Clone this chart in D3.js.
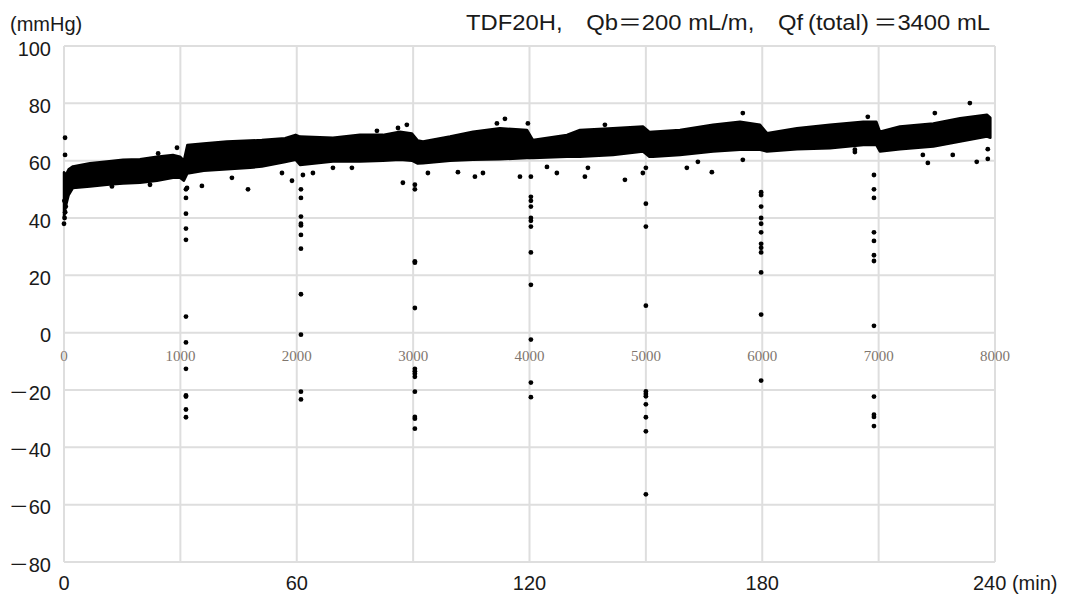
<!DOCTYPE html>
<html>
<head>
<meta charset="utf-8">
<script src="https://cdn.jsdelivr.net/npm/d3@7"></script>
<style>
  body { margin: 0; background: #fff; }
  svg text { font-family: "Liberation Sans", Arial, "Noto Sans CJK JP", sans-serif; fill: #1a1a1a; }
</style>
</head>
<body>
<div id="plot"></div>
<script>
// Dense band of samples: envelope (sample index, upper, lower)
var cloudIdx = [0, 15, 40, 77, 223, 369, 507, 653, 799, 936, 997, 1030, 1060, 1200, 1400, 1600, 1700, 1900, 1990,
  2028, 2311, 2543, 2741, 2887, 2990, 3040, 3085, 3317, 3515, 3746, 3978, 4030, 4322, 4434, 4717, 4975,
  5030, 5061, 5293, 5577, 5809, 5981, 6040, 6298, 6582, 6868, 6980, 7011, 7183, 7470, 7700, 7931, 7960];
var cloudHi = [56, 55, 57, 58, 59.1, 59.7, 60.3, 60.5, 61.4, 62, 61.4, 60, 65.5, 66, 66.7, 67, 67.2, 67.8, 69,
  68.4, 68, 69, 69, 70.1, 69.5, 67, 66.7, 68.4, 70.1, 71.3, 70.7, 67.2, 69, 70.7, 71.3, 71.9,
  70, 70.1, 70.7, 72.5, 73.6, 72.5, 69.6, 71.3, 72.5, 73.6, 73.6, 70.1, 71.9, 73, 74.8, 76, 75];
var cloudLo = [40, 44, 48, 50.5, 51, 51.6, 52, 52.3, 53, 54, 54, 53, 55.5, 56.5, 57, 57.5, 58, 59.5, 60.3,
  58.5, 59.7, 59.7, 60, 60.3, 60, 59, 59.1, 60, 60.3, 60.5, 60.9, 60.9, 61.4, 61.4, 62, 63.2,
  61.4, 61.4, 62, 63.2, 63.8, 63.8, 63.2, 64, 64.3, 65.5, 65.5, 63.2, 64, 64.9, 66.7, 68.4, 68];

// Single points outside the band (sample index, mmHg)
var dotIdx = [0, 5, 10, 9, 9, 15, 3,
  1048, 1048, 1048, 1048, 1048, 1048, 1048, 1048, 1048, 1048, 1048, 1048,
  971, 1057, 1185, 1443, 1581, 1873, 1959, 412, 739, 809,
  2036, 2036, 2036, 2036, 2036, 2036, 2036, 2036, 2036, 2036, 2036, 2053,
  2139, 2311, 2474, 2912, 2870, 2946, 2689,
  3015, 3015, 3015, 3015, 3015, 3015, 3015, 3015, 3015, 3015, 3015, 3015, 3015,
  3127, 3385, 3531, 3600, 3918, 3789, 3720, 3986,
  4012, 4012, 4012, 4012, 4012, 4012, 4012, 4012, 4012, 4012, 4012, 4012,
  4150, 4235, 4476, 4502, 4648, 4820, 4974,
  5000, 5000, 5000, 5000, 5000, 5000, 5000, 5000, 5000, 5000, 5000,
  5352, 5447, 5567, 5833, 5833,
  5990, 5990, 5990, 5990, 5990, 5990, 5990, 5990, 5990, 5990, 5990, 5990,
  6796, 6907, 6796,
  6960, 6960, 6960, 6960, 6960, 6960, 6960, 6960, 6960, 6960, 6960, 6960,
  7784, 7483, 7766, 7423, 7637, 7843, 7938, 7938, 7380];
var dotVal = [38, 40, 42, 68, 62, 44, 46,
  50, 47, 41.5, 36.3, 32.4, 5.6, -3.4, -12.6, -21.9, -22.3, -26.8, -29.5,
  64.5, 50.5, 51.2, 54, 50, 55.7, 53, 51, 51.6, 62.5,
  50, 47, 40.5, 38, 37.4, 34.1, 29.3, 13.4, -0.7, -20.6, -23.3, 55,
  55.7, 57.5, 57.5, 52.3, 71.4, 72.5, 70.4,
  51.6, 50, 24.4, 24.9, 8.6, -12.6, -13.5, -14.3, -15.4, -20.6, -29.4, -30, -33.5,
  55.7, 56, 54.4, 55.7, 54.4, 74.6, 73, 73,
  54.4, 47.4, 46, 44, 40, 39, 37, 28, 16.7, -2.4, -17.4, -22.5,
  57.8, 55.7, 54.4, 57.5, 72.5, 53.3, 55.7,
  57.5, 45, 37, 9.4, -20.5, -21.4, -22.2, -25, -29.5, -34.4, -56.4,
  57.5, 59.6, 56, 60.3, 76.6,
  49, 48, 44, 40, 38, 35, 31, 29.6, 28, 21, 6.3, -16.7,
  63.8, 75.3, 63,
  55, 50, 47, 35, 32, 27, 25, 2.4, -22.3, -28.6, -29.4, -32.6,
  80.1, 76.6, 74.2, 59.2, 62, 59.6, 60.6, 64, 62];

var yTicks = [-80, -60, -40, -20, 0, 20, 40, 60, 80, 100];
var idxTicks = [0, 1000, 2000, 3000, 4000, 5000, 6000, 7000, 8000];
var minTicks = [0, 60, 120, 180, 240];

var W = 1070, H = 597;
var svg = d3.select("#plot").append("svg")
    .attr("width", W)
    .attr("height", H);

var x = d3.scaleLinear().domain([0, 8000]).range([64, 995]);
var xMin = d3.scaleLinear().domain([0, 240]).range([64, 995]);
var y = d3.scaleLinear().domain([-80, 100]).range([562, 46]);

// gridlines
svg.append("g").selectAll("line")
    .data(yTicks)
    .enter().append("line")
    .attr("x1", x(0)).attr("x2", x(8000))
    .attr("y1", function (d) { return y(d); })
    .attr("y2", function (d) { return y(d); })
    .attr("stroke", "#dedede")
    .attr("stroke-width", 2);

svg.append("g").selectAll("line")
    .data(idxTicks)
    .enter().append("line")
    .attr("x1", function (d) { return x(d); })
    .attr("x2", function (d) { return x(d); })
    .attr("y1", y(100)).attr("y2", y(-80))
    .attr("stroke", "#dedede")
    .attr("stroke-width", 2);

// inner sample-number labels under the zero line
svg.append("g").selectAll("text")
    .data(idxTicks)
    .enter().append("text")
    .attr("x", function (d) { return x(d); })
    .attr("y", y(0) + 28)
    .attr("text-anchor", "middle")
    .style("font-family", "'Liberation Serif', serif")
    .style("font-size", "15px")
    .style("fill", "#80766e")
    .text(function (d) { return d; });

// the dense band of samples
var band = d3.area()
    .x(function (d, i) { return x(cloudIdx[i]); })
    .y0(function (d, i) { return y(cloudLo[i]); })
    .y1(function (d, i) { return y(cloudHi[i]); });

svg.append("path")
    .datum(cloudIdx)
    .attr("d", band)
    .attr("fill", "#000")
    .attr("stroke", "#000")
    .attr("stroke-width", 2.5)
    .attr("stroke-linejoin", "round");

// isolated points
svg.append("g").selectAll("circle")
    .data(dotIdx)
    .enter().append("circle")
    .attr("cx", function (d) { return x(d); })
    .attr("cy", function (d, i) { return y(dotVal[i]); })
    .attr("r", 2.4)
    .attr("fill", "#000");

// y tick labels
svg.append("g").selectAll("text")
    .data(yTicks)
    .enter().append("text")
    .attr("x", 51)
    .attr("y", function (d) { return y(d) + 9.5; })
    .attr("text-anchor", "end")
    .style("font-size", "20px")
    .text(function (d) { return d < 0 ? "\uFF0D" + Math.abs(d) : d; });

// bottom tick labels (minutes)
svg.append("g").selectAll("text")
    .data(minTicks)
    .enter().append("text")
    .attr("x", function (d) { return d === 240 ? xMin(d) - 22 : xMin(d); })
    .attr("y", 590)
    .attr("text-anchor", function (d) { return d === 240 ? "start" : "middle"; })
    .style("font-size", "20px")
    .text(function (d) { return d === 240 ? "240 (min)" : d; });

// unit and title
svg.append("text")
    .attr("x", 10)
    .attr("y", 31)
    .style("font-size", "20px")
    .text("(mmHg)");

svg.append("text")
    .attr("x", 466)
    .attr("y", 30)
    .attr("textLength", 524)
    .attr("lengthAdjust", "spacingAndGlyphs")
    .style("font-size", "22px")
    .text("TDF20H,\u2003Qb\uFF1D200 mL/m,\u2003Qf\u2009(total)\u2009\uFF1D3400 mL");
</script>
</body>
</html>
